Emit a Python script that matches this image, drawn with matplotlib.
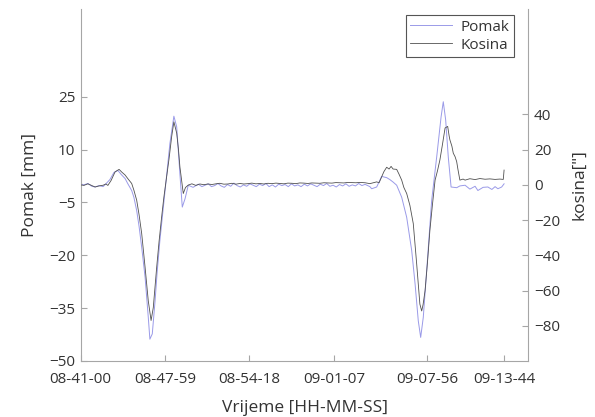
import matplotlib
matplotlib.use('Agg')
import matplotlib.pyplot as plt

plt.rcParams['font.family'] = ['Open Sans', 'DejaVu Sans']

# sample positions of the time labels on the x axis
tick_pos = [0, 422, 842, 1267, 1732, 2117]
tick_labels = ['08-41-00', '08-47-59', '08-54-18', '09-01-07', '09-07-56', '09-13-44']

# Pomak [mm] (left axis)
pomak_x = [0, 16, 36, 56, 72, 92, 112, 126, 146, 166, 186, 202, 222, 236, 255, 266, 280, 292,
           305, 322, 338, 346, 358, 372, 382, 396, 422, 446, 466, 480, 496, 508, 522, 538, 562,
           588, 606,
           622, 638, 654, 670, 686, 702, 718, 734, 750, 766, 782, 798, 814, 830, 846, 862, 878,
           894, 910, 926, 942, 958, 974, 990, 1006, 1022, 1038, 1054, 1070, 1086, 1102, 1118,
           1134, 1150, 1166, 1182, 1198, 1214, 1230, 1246, 1262, 1278, 1294, 1310, 1326, 1342,
           1358, 1374, 1390, 1406,
           1422, 1446, 1455, 1480, 1505, 1530, 1546, 1562, 1580, 1605, 1630, 1655, 1672, 1688,
           1700, 1713, 1730, 1755, 1780, 1802, 1813, 1825, 1838, 1852, 1880, 1896, 1922, 1946,
           1972, 1986, 2012, 2036, 2056, 2072, 2086, 2105, 2117]
pomak = [0.3, 0.0, 0.4, -0.4, -0.6, -0.2, -0.5, 0.3, 1.5, 3.5, 4.1, 3.0, 1.8, 0.3, -1.6, -3.5,
         -7.3, -11.8, -17.7, -26.2, -37.6, -43.8, -42.3, -32.9, -25.0, -15.8, -1.6, 11.7, 19.5,
         16.5, 3.2, -6.3, -3.9, -0.1, -0.7, 0.2, -0.5,
         -0.1, 0.3, -0.5, -0.2, 0.4, -0.3, -0.7, 0.1, -0.4, 0.5, -0.2, -0.6, 0.0, -0.4, 0.3,
         -0.1, -0.5, 0.2, -0.2, 0.4, -0.5, 0.0, -0.6, 0.2, -0.2, 0.1, -0.5, 0.3, -0.3, 0.0,
         -0.5, 0.2, -0.3, 0.3, -0.1, -0.5, 0.2, -0.2, 0.4, -0.4, -0.1, -0.6, 0.1, -0.3, 0.3,
         -0.4, 0.0, -0.3, 0.4, -0.2,
         0.15, -0.5, -1.1, -0.6, 2.4, 2.05, 1.5, 0.8, -0.1, -3.5, -9.2, -18.6, -28.1, -38.6,
         -43.3, -37.6, -24.3, -4.4, 7.9, 19.3, 23.6, 18.4, 7.9, -0.6, -0.8, -0.3, -0.1, -1.2,
         -0.4, -1.6, -0.7, -0.6, -1.3, -0.5, -1.1, -0.6, 0.3]

# Kosina ["] (right axis)
kosina_x = [0, 16, 36, 56, 72, 92, 112, 126, 136, 152, 172, 192, 206, 222, 236, 255, 266, 280,
            292, 305, 322, 338, 352, 363, 380, 392, 405, 416, 430, 442, 455, 466, 480, 489, 496,
            513, 524, 538, 556, 576, 596,
            616, 636, 656, 676, 696, 716, 736, 756, 776, 796, 816, 836, 856, 876, 896, 916, 936,
            956, 976, 996, 1016, 1036, 1056, 1076, 1096, 1116, 1136, 1156, 1176, 1196, 1216,
            1236, 1256, 1276, 1296, 1316, 1336, 1356, 1376, 1396,
            1422, 1446, 1480, 1492, 1505, 1516, 1530, 1542, 1552, 1562, 1580, 1592, 1605, 1616,
            1630, 1646, 1663, 1680, 1696, 1705, 1712, 1722, 1734, 1746, 1759, 1772, 1784, 1796,
            1809, 1822, 1835, 1842, 1846, 1856, 1863, 1872, 1880, 1886, 1896, 1912, 1922, 1946,
            1972, 1996, 2022, 2046, 2072, 2096, 2113, 2117]
kosina = [0.0, -0.3, 0.6, -0.4, -1.2, -0.6, -0.2, 0.5, -0.3, 2.5, 7.4, 8.8, 7.2, 5.6, 3.5,
          0.8, -3.0, -8.7, -17.0, -27.6, -46.8, -65.9, -77.0, -69.7, -46.8, -32.0, -18.0, -7.0,
          4.6, 15.0, 27.5, 35.8, 29.4, 20.0, 10.3, -4.9, -1.5, -0.1, 0.6, -0.3, 0.5,
          0.1, 0.5, 0.2, 0.6, 0.9, 0.4, 0.5, 0.9, 0.4, 0.8, 0.5, 0.7, 1.0, 0.6, 0.8, 0.5, 0.9,
          0.7, 1.0, 0.8, 0.6, 1.0, 0.9, 0.7, 1.1, 1.0, 0.8, 1.1, 1.0, 0.9, 1.2, 1.1, 1.0, 1.3,
          1.2, 1.1, 1.4, 1.3, 1.2, 1.4,
          1.2, 0.7, 1.7, 1.2, 4.6, 7.5, 10.0, 9.0, 10.5, 9.0, 8.8, 6.0, 2.7, -1.5, -4.9, -11.6,
          -22.0, -44.9, -67.7, -71.6, -68.0, -60.0, -44.0, -25.9, -11.0, 2.7, 8.0, 14.1, 23.0,
          32.3, 33.2, 28.0, 25.6, 22.0, 18.0, 16.0, 13.2, 9.0, 2.7, 3.3, 2.7, 3.5, 3.0, 3.6,
          3.2, 3.4, 3.1, 3.3, 3.1, 8.4]

x_end = 2239

spine_col = '#a6a6a6'
text_col = '#333333'

fig = plt.figure(figsize=(5.95, 4.17), dpi=100)
ax = fig.add_axes([0.1356, 0.1343, 0.7526, 0.8447])
ax2 = ax.twinx()

l1, = ax.plot(pomak_x, pomak, color='#9a9ae8', lw=0.7, label='Pomak')
l2, = ax2.plot(kosina_x, kosina, color='#505050', lw=0.6, label='Kosina')

ax.set_xlim(0, x_end)
ax.set_ylim(-50, 50)
ax2.set_ylim(-100, 100)

ax.set_xticks(tick_pos, tick_labels)
ax.set_yticks([-50, -35, -20, -5, 10, 25])
ax2.set_yticks([-80, -60, -40, -20, 0, 20, 40])

for a in (ax, ax2):
    a.spines['top'].set_visible(False)
    for s in a.spines.values():
        s.set_color(spine_col)
        s.set_linewidth(0.8)
    a.tick_params(direction='in', length=4, width=0.8, color=spine_col,
                  labelcolor=text_col, labelsize=11, pad=4)
ax.tick_params(axis='x', pad=8)
ax.spines['right'].set_visible(False)
ax2.spines['left'].set_visible(False)
ax2.spines['bottom'].set_visible(False)

ax.set_xlabel('Vrijeme [HH-MM-SS]', fontsize=12.5, color=text_col, labelpad=9)
ax.set_ylabel('Pomak [mm]', fontsize=12.5, color=text_col, labelpad=8)
ax2.set_ylabel('kosina["]', fontsize=12.5, color=text_col, labelpad=8)

leg = ax2.legend(handles=[l1, l2], loc='upper right', bbox_to_anchor=(0.968, 0.982),
                 borderaxespad=0, fancybox=False, fontsize=11, handlelength=2.7,
                 handletextpad=0.6, borderpad=0.3, labelspacing=0.2, framealpha=1)
leg.get_frame().set_edgecolor('#555555')
leg.get_frame().set_linewidth(0.8)
for t in leg.get_texts():
    t.set_color(text_col)

fig.savefig('out.png', dpi=100)
